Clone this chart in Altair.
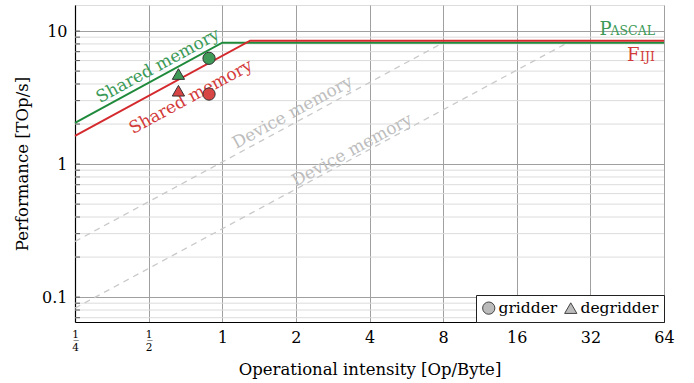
import altair as alt
import pandas as pd

FONT = "DejaVu Serif"

# ---- data ----
x_ticks = [0.25, 0.5, 1, 2, 4, 8, 16, 32, 64]
y_major = [0.1, 1, 10]
y_minor = [0.07, 0.08, 0.09, 0.2, 0.3, 0.4, 0.5, 0.6, 0.7, 0.8, 0.9,
           2, 3, 4, 5, 6, 7, 8, 9]

# roofline vertices (operational intensity, performance)
pascal_oi = [0.25, 1.0, 64]
pascal_perf = [2.04, 8.17, 8.17]
fiji_oi = [0.25, 1.3, 64]
fiji_perf = [1.63, 8.46, 8.46]

# device memory (dashed) lines
dev_hi_oi = [0.25, 8.0]
dev_hi_perf = [0.262, 8.17]
dev_lo_oi = [0.25, 25.6]
dev_lo_perf = [0.0827, 8.1]

# measured kernels
pt_device = ["Pascal", "Pascal", "Fiji", "Fiji"]
pt_kernel = ["gridder", "degridder", "gridder", "degridder"]
pt_oi = [0.883, 0.662, 0.883, 0.662]
pt_perf = [6.24, 4.75, 3.36, 3.56]

GREEN = "#1f8a3b"
RED = "#d42a2e"
GREEN_PT = "#3f9a58"
RED_PT = "#d84545"
GREEN_TXT = "#3b9a57"
RED_TXT = "#d33a3a"
GRAY_TXT = "#bdbdbd"

xs = alt.Scale(type="log", base=2, domain=[0.25, 64], nice=False)
ys = alt.Scale(type="log", domain=[0.065, 15.7], nice=False)

frac = "\u0332"
x_axis = alt.Axis(
    values=x_ticks,
    labelExpr=("datum.value == 0.25 ? ['1" + frac + "', '4'] : "
               "datum.value == 0.5 ? ['1" + frac + "', '2'] : "
               "format(datum.value, 'd')"),
    labelFont=FONT,
    labelFontSize={"condition": {"test": "datum.value < 1", "value": 10.5}, "value": 16},
    labelLineHeight=13,
    labelColor="black",
    labelPadding=7,
    labelBaseline="top",
    ticks=False,
    grid=True, gridColor="#a0a0a0", gridWidth=1,
    domainColor="black", domainWidth=1.2,
    title="Operational intensity [Op/Byte]",
    titleFont=FONT, titleFontSize=16.5, titleFontWeight="normal", titleColor="black",
    titlePadding=9,
    labelFlush=False,
)
y_axis = alt.Axis(
    values=y_major,
    labelExpr="datum.value == 0.1 ? '0.1' : datum.value == 1 ? '1' : '10'",
    labelFont=FONT, labelFontSize=16, labelColor="black",
    labelPadding=8, ticks=False,
    grid=True, gridColor="#a0a0a0", gridWidth=1,
    domainColor="black", domainWidth=1.2,
    title="Performance [TOp/s]",
    titleFont=FONT, titleFontSize=16.5, titleFontWeight="normal", titleColor="black",
    titlePadding=11,
    labelFlush=False,
)

minor_df = pd.DataFrame({"v": y_minor})
minor_grid = alt.Chart(minor_df).mark_rule(color="#dcdcdc", strokeWidth=1).encode(
    y=alt.Y("v:Q", scale=ys, axis=y_axis),
    x=alt.value(0), x2=alt.value(589),
)
tick_df = pd.DataFrame({"v": y_minor + y_major})
inner_ticks = alt.Chart(tick_df).mark_rule(color="#555555", strokeWidth=1).encode(
    y=alt.Y("v:Q", scale=ys),
    x=alt.value(0), x2=alt.value(5),
)

roof_df = pd.DataFrame({
    "oi": pascal_oi + fiji_oi,
    "perf": pascal_perf + fiji_perf,
    "device": ["Pascal"] * len(pascal_oi) + ["Fiji"] * len(fiji_oi),
})
roof = alt.Chart(roof_df).mark_line(strokeWidth=2).encode(
    x=alt.X("oi:Q", scale=xs, axis=x_axis),
    y=alt.Y("perf:Q", scale=ys),
    stroke=alt.Stroke("device:N", scale=alt.Scale(domain=["Pascal", "Fiji"], range=[GREEN, RED]), legend=None),
)

dev_df = pd.DataFrame({
    "oi": dev_hi_oi + dev_lo_oi,
    "perf": dev_hi_perf + dev_lo_perf,
    "line": ["hi"] * len(dev_hi_oi) + ["lo"] * len(dev_lo_oi),
})
dev = alt.Chart(dev_df).mark_line(strokeWidth=1.3, color="#c9c9c9", strokeDash=[6, 5]).encode(
    x=alt.X("oi:Q", scale=xs),
    y=alt.Y("perf:Q", scale=ys),
    detail="line:N",
)

pts_df = pd.DataFrame({"device": pt_device, "kernel": pt_kernel, "oi": pt_oi, "perf": pt_perf})
pts = alt.Chart(pts_df).mark_point(filled=True, opacity=1, stroke="#333333", strokeWidth=1, size=150).encode(
    x=alt.X("oi:Q", scale=xs),
    y=alt.Y("perf:Q", scale=ys),
    fill=alt.Fill("device:N", scale=alt.Scale(domain=["Pascal", "Fiji"], range=[GREEN_PT, RED_PT]), legend=None),
    shape=alt.Shape("kernel:N",
                    scale=alt.Scale(domain=["gridder", "degridder"], range=["circle", "triangle-up"]),
                    legend=alt.Legend(
                        title=None, orient="bottom-right", direction="horizontal",
                        offset=0, padding=5, strokeColor="#222222", fillColor="white",
                        cornerRadius=0, labelFont=FONT, labelFontSize=15.5, labelColor="black",
                        symbolFillColor="#bbbbbb", symbolStrokeColor="#444444",
                        symbolStrokeWidth=1, symbolSize=150, labelOffset=2,
                        columnPadding=4, symbolOpacity=1,
                    )),
)

# annotations (anchor point in data coords)
ann_text = ["Shared memory", "Shared memory", "Device memory", "Device memory"]
ann_oi = [0.546, 0.745, 1.94, 3.40]
ann_perf = [5.46, 3.19, 2.44, 1.27]
ann_col = ["g", "r", "d", "d"]
ann_df = pd.DataFrame({"t": ann_text, "oi": ann_oi, "perf": ann_perf, "c": ann_col})
ann = alt.Chart(ann_df).mark_text(font=FONT, fontSize=17, angle=331.5, baseline="middle", align="center").encode(
    x=alt.X("oi:Q", scale=xs),
    y=alt.Y("perf:Q", scale=ys),
    text="t:N",
    color=alt.Color("c:N", scale=alt.Scale(domain=["g", "r", "d"], range=[GREEN_TXT, RED_TXT, GRAY_TXT]), legend=None),
)

# device names in small caps (big initial + small rest)
def smallcaps(big, rest, perf, dy, color, rest_w):
    d = pd.DataFrame({"oi": [64], "perf": [perf]})
    b = alt.Chart(d).mark_text(text=rest, font=FONT, fontSize=12.5, align="right", baseline="alphabetic",
                               dx=-9, dy=dy, color=color).encode(
        x=alt.X("oi:Q", scale=xs), y=alt.Y("perf:Q", scale=ys))
    a = alt.Chart(d).mark_text(text=big, font=FONT, fontSize=18, align="right", baseline="alphabetic",
                               dx=-9 - rest_w, dy=dy, color=color).encode(
        x=alt.X("oi:Q", scale=xs), y=alt.Y("perf:Q", scale=ys))
    return a + b

pascal_lbl = smallcaps("P", "ASCAL", pascal_perf[-1], -7.7, GREEN_TXT, 43.5)
fiji_lbl = smallcaps("F", "IJI", fiji_perf[-1], 20, RED_TXT, 15.5)

chart = alt.layer(
    minor_grid, inner_ticks, dev, roof, ann, pts, pascal_lbl, fiji_lbl
).resolve_scale(
    color="independent", fill="independent", stroke="independent"
).properties(
    width=589, height=317,
    autosize=alt.AutoSizeParams(type="none"),
    padding={"left": 75, "top": 5, "right": 30, "bottom": 61},
).configure_view(stroke=None).configure(background="white")

chart.save("out.html", embed_options={"renderer": "svg", "actions": False})
